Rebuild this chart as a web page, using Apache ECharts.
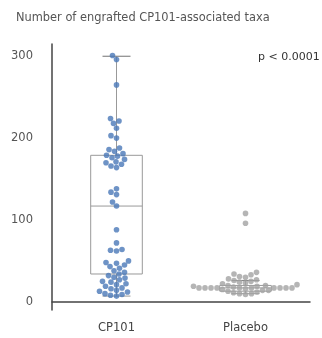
<!DOCTYPE html>
<html>
<head>
<meta charset="utf-8">
<script src="https://cdn.jsdelivr.net/npm/echarts@6/dist/echarts.min.js"></script>
<style>
  html, body { margin: 0; padding: 0; background: #fff; }
  #chart { width: 322px; height: 338px; }
</style>
</head>
<body>
<div id="chart"></div>
<script>
const categories = ['CP101', 'Placebo']
const yTicks = [0, 100, 200, 300]
// whisker low, Q1, median, Q3, whisker high
const cp101Box = [7, 34, 117, 179, 300]
const placeboBox = [10, 13, 17, 20, 26]
const cp101Values = [
    301, 296, 265,
    224, 221, 218, 212, 203, 200, 188, 186, 184, 181, 179, 178, 176, 174, 171, 170, 168, 166, 164,
    138, 134, 131, 122, 117,
    88, 72, 64, 63, 62,
    50, 48, 47, 45, 43, 41, 38, 36, 34, 32, 30, 29, 27, 25, 24, 22, 21, 19, 17, 16, 14, 13, 12, 10, 9, 8, 7
]
const placeboValues = [
    108, 96,
    36, 34, 33, 31, 30, 28, 27, 26, 25, 24, 23, 22, 21, 20, 20, 19, 19, 18,
    17, 17, 17, 17, 17, 17, 17, 17, 17, 17,
    16, 15, 14, 14, 13, 12, 11, 10, 10, 9
]

const yMin = -10
const yMax = 315
const pxPerUnit = 266 / (yMax - yMin)
const pxPerCat = 129
const radius = 2.8

// simple beeswarm: each point goes to the nearest free spot beside the centre line
const swarm = function (values, catIndex) {
    const placed = []
    const out = []
    const sorted = values.slice().sort((a, b) => a - b)
    sorted.forEach(v => {
        const y = v * pxPerUnit
        let x = 0
        for (let k = 0; k < 400; k++) {
            const step = Math.ceil(k / 2) * 0.5
            const cand = k % 2 === 0 ? step : -step
            const free = placed.every(p => (cand - p[0]) ** 2 + (y - p[1]) ** 2 >= (2 * radius) ** 2)
            if (free) { x = cand; break }
        }
        placed.push([x, y])
        out.push([catIndex + x / pxPerCat, v])
    })
    return out
}

const chart = echarts.init(document.getElementById('chart'))
const font = 'DejaVu Sans'

chart.setOption({
    animation: false,
    title: {
        text: 'Number of engrafted CP101-associated taxa',
        left: 11,
        top: 8,
        textStyle: { fontSize: 11.4, fontWeight: 'normal', color: '#555', fontFamily: font }
    },
    graphic: [{
        type: 'text',
        x: 258,
        y: 52,
        style: { text: 'p < 0.0001', fontSize: 11, fill: '#333', fontFamily: font }
    }],
    grid: { left: 52, right: 12, top: 44, bottom: 28 },
    xAxis: [
        {
            type: 'category',
            data: categories,
            axisLine: { lineStyle: { color: '#444', width: 1.5 } },
            axisTick: { show: false },
            axisLabel: { color: '#444', fontSize: 11.5, fontFamily: font, margin: 12 }
        },
        {
            type: 'value',
            min: -0.5,
            max: 1.5,
            show: false
        }
    ],
    yAxis: {
        type: 'value',
        min: yMin,
        max: yMax,
        splitLine: { show: false },
        axisLine: { show: true, onZero: false, lineStyle: { color: '#444', width: 1.5 } },
        axisTick: { show: false },
        axisLabel: { customValues: yTicks, color: '#555', fontSize: 11.5, fontFamily: font, margin: 19 }
    },
    series: [
        {
            type: 'custom',
            xAxisIndex: 0,
            data: [[0, ...cp101Box], [1, ...placeboBox]],
            renderItem: function (params, api) {
                const cx = api.coord([api.value(0), 0])[0]
                const y = [1, 2, 3, 4, 5].map(i => api.coord([api.value(0), api.value(i)])[1])
                const bw = api.size([1, 0])[0] * 0.2
                const cw = 14
                const line = { stroke: '#999', lineWidth: 1, fill: null }
                return {
                    type: 'group',
                    children: [
                        { type: 'line', shape: { x1: cx, y1: y[0], x2: cx, y2: y[1] }, style: line },
                        { type: 'line', shape: { x1: cx, y1: y[3], x2: cx, y2: y[4] }, style: line },
                        { type: 'line', shape: { x1: cx - cw, y1: y[0], x2: cx + cw, y2: y[0] }, style: line },
                        { type: 'line', shape: { x1: cx - cw, y1: y[4], x2: cx + cw, y2: y[4] }, style: { stroke: '#888', lineWidth: 1.2 } },
                        { type: 'rect', shape: { x: cx - bw, y: y[3], width: bw * 2, height: y[1] - y[3] }, style: { stroke: '#999', lineWidth: 1, fill: 'rgba(255,255,255,0)' } },
                        { type: 'line', shape: { x1: cx - bw, y1: y[2], x2: cx + bw, y2: y[2] }, style: line }
                    ]
                }
            },
            z: 1
        },
        {
            type: 'scatter',
            xAxisIndex: 1,
            data: swarm(cp101Values, 0),
            symbolSize: radius * 2,
            itemStyle: { color: '#4a78b8' },
            z: 3
        },
        {
            type: 'scatter',
            xAxisIndex: 1,
            data: swarm(placeboValues, 1),
            symbolSize: radius * 2,
            itemStyle: { color: '#a3a3a3' },
            z: 3
        }
    ]
})
</script>
</body>
</html>
